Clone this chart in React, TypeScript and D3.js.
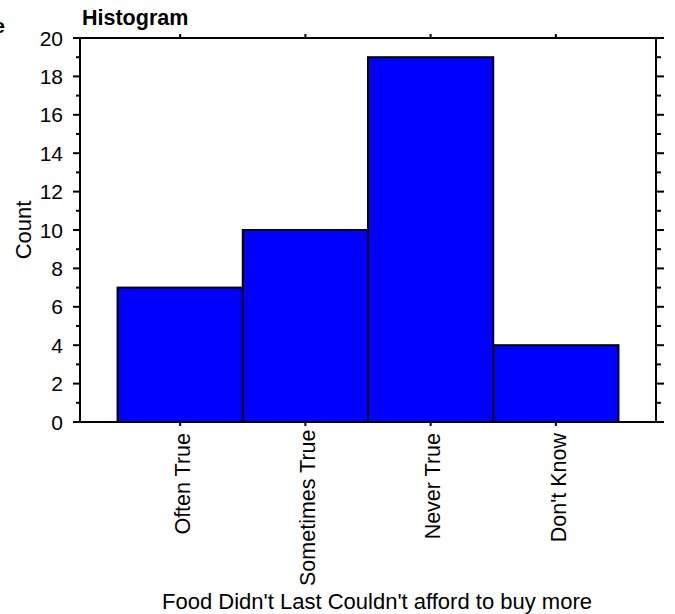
import React, { useLayoutEffect, useRef, useState } from "react";
import * as d3 from "d3";

const categories = ["Often True", "Sometimes True", "Never True", "Don't Know"];
const counts = [7, 10, 19, 4];
const yMajorTicks = [0, 2, 4, 6, 8, 10, 12, 14, 16, 18, 20];
const yMinorTicks = [1, 3, 5, 7, 9, 11, 13, 15, 17, 19];
const title = "Histogram";
const xTitle = "Food Didn't Last Couldn't afford to buy more";
const yTitle = "Count";

const W = 675, H = 614;
const L = 80, R = 656, T = 38, B = 422;
const LABEL_TOP = B + 11;
const LABEL_MAX = 586;
const FONT = "Liberation Sans, Arial, Helvetica, sans-serif";

export default function App() {
  const x = d3.scaleLinear().domain([-0.8, 3.8]).range([L, R]);
  const y = d3.scaleLinear().domain([0, 20]).range([B, T]);
  const idx = d3.range(categories.length);
  const labelRefs = useRef<(SVGTextElement | null)[]>([]);
  const [lens, setLens] = useState<number[]>(categories.map(() => 0));
  useLayoutEffect(() => {
    setLens(labelRefs.current.map((el) => (el ? el.getComputedTextLength() : 0)));
  }, []);
  return (
    <svg width={W} height={H} style={{ position: "absolute", left: 0, top: 0 }} fontFamily={FONT}>
      <rect width={W} height={H} fill="#fff" />
      <text x={5} y={33} textAnchor="end" fontWeight="bold" fontSize={21}>Table</text>
      <text x={82} y={25} fontWeight="bold" fontSize={21.5}>{title}</text>
      {counts.map((c, i) => (
        <rect key={i} x={x(i - 0.5)} y={y(c)} width={x(i + 0.5) - x(i - 0.5)} height={y(0) - y(c)}
          fill="#0000ff" stroke="#000" strokeWidth={2} />
      ))}
      <line x1={L} x2={L} y1={T} y2={B} stroke="#000" strokeWidth={2} />
      <line x1={R} x2={R} y1={T} y2={B} stroke="#000" strokeWidth={2} />
      <line x1={L} x2={R} y1={T} y2={T} stroke="#000" strokeWidth={2} />
      <line x1={L} x2={R} y1={B} y2={B} stroke="#000" strokeWidth={2} />
      {yMajorTicks.map((t) => (
        <g key={"M" + t}>
          <line x1={L - 7} x2={L} y1={y(t)} y2={y(t)} stroke="#000" strokeWidth={2} />
          <line x1={R} x2={R + 8} y1={y(t)} y2={y(t)} stroke="#000" strokeWidth={2} />
          <text x={63} y={y(t)} dy="0.36em" textAnchor="end" fontSize={21}>{t}</text>
        </g>
      ))}
      {yMinorTicks.map((t) => (
        <g key={"m" + t}>
          <line x1={L - 4} x2={L} y1={y(t)} y2={y(t)} stroke="#000" strokeWidth={2} />
          <line x1={R} x2={R + 5} y1={y(t)} y2={y(t)} stroke="#000" strokeWidth={2} />
        </g>
      ))}
      {idx.map((i) => {
        const len = lens[i];
        const top = Math.min(LABEL_TOP, LABEL_MAX - len);
        return (
          <g key={"x" + i}>
            <line x1={x(i)} x2={x(i)} y1={B} y2={B + 4} stroke="#000" strokeWidth={2} />
            <line x1={x(i)} x2={x(i)} y1={T} y2={T - 4} stroke="#000" strokeWidth={2} />
            <text ref={(el) => { labelRefs.current[i] = el; }}
              transform={`translate(${x(i)},${top}) rotate(-90)`} dy="0.45em" textAnchor="end" fontSize={21.5}>
              {categories[i]}
            </text>
          </g>
        );
      })}
      <text x={(L + R) / 2 + 9} y={609} textAnchor="middle" fontSize={22}>{xTitle}</text>
      <text transform={`translate(31,${(T + B) / 2}) rotate(-90)`} textAnchor="middle" fontSize={22}>{yTitle}</text>
    </svg>
  );
}
